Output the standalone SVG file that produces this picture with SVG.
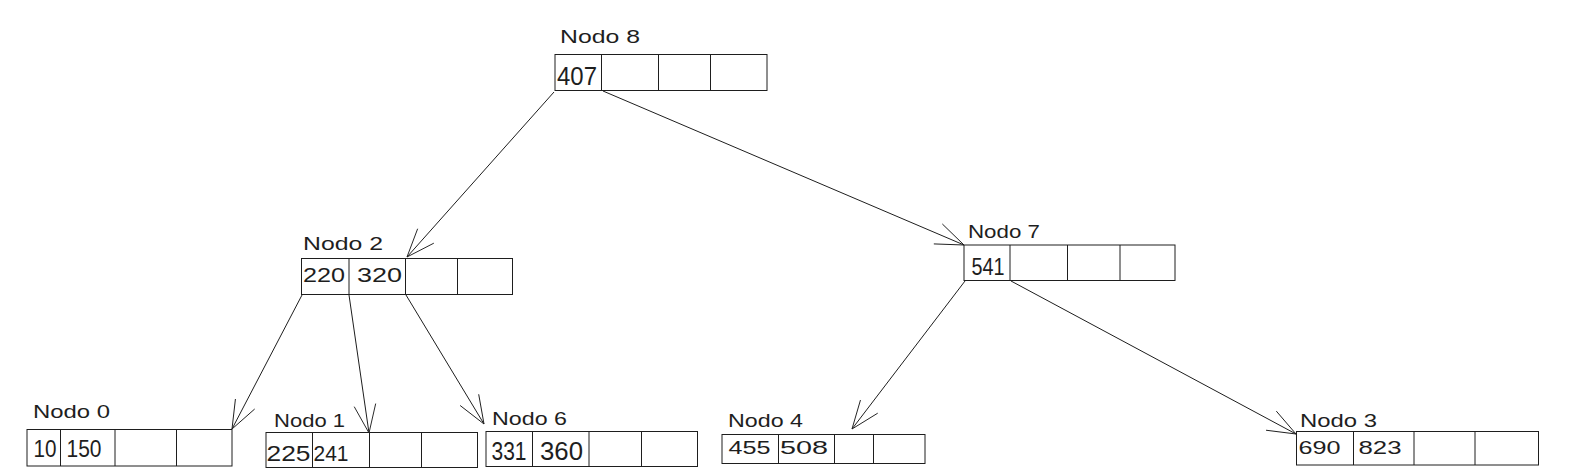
<svg xmlns="http://www.w3.org/2000/svg" width="1585" height="472" viewBox="0 0 1585 472">
<style>
.cell{fill:#ffffff;stroke:#1e1e1e;stroke-width:1}
.div{stroke:#1e1e1e;stroke-width:1}
.lbl{font-family:"Liberation Sans",Arial,sans-serif;font-size:19px;fill:#1e1e1e}
.num{font-family:"Liberation Sans",Arial,sans-serif;fill:#1e1e1e}
.edge{stroke:#1e1e1e;stroke-width:1;fill:none;marker-end:url(#ah)}
</style>
<defs>
<marker id="ah" markerUnits="userSpaceOnUse" markerWidth="40" markerHeight="40" refX="0" refY="0" orient="auto" overflow="visible" viewBox="-40 -20 45 40">
<path d="M -31.7 -12.2 L 0 0 L -31.7 12.2" fill="none" stroke="#1e1e1e" stroke-width="1"/>
</marker>
</defs>
<rect width="1585" height="472" fill="#ffffff"/>
<g id="connectors">
<line class="edge" x1="554" y1="92" x2="407" y2="257"/>
<line class="edge" x1="603" y1="91" x2="964" y2="245"/>
<line class="edge" x1="302" y1="295" x2="232" y2="429"/>
<line class="edge" x1="349" y1="295" x2="369" y2="433"/>
<line class="edge" x1="406" y1="295" x2="484" y2="424"/>
<line class="edge" x1="965" y1="281" x2="852" y2="429"/>
<line class="edge" x1="1011" y1="281" x2="1296" y2="434"/>
</g>
<g id="nodo8">
<text class="lbl" x="560" y="43" textLength="80" lengthAdjust="spacingAndGlyphs">Nodo 8</text>
<rect class="cell" x="555" y="54.5" width="212" height="36"/>
<line class="div" x1="601.5" y1="54.5" x2="601.5" y2="90.5"/>
<line class="div" x1="658.5" y1="54.5" x2="658.5" y2="90.5"/>
<line class="div" x1="710.5" y1="54.5" x2="710.5" y2="90.5"/>
<text class="num" x="557" y="85" font-size="26" textLength="40" lengthAdjust="spacingAndGlyphs">407</text>
</g>
<g id="nodo2">
<text class="lbl" x="303" y="250" textLength="80" lengthAdjust="spacingAndGlyphs">Nodo 2</text>
<rect class="cell" x="301.5" y="258.5" width="211" height="36"/>
<line class="div" x1="349" y1="258.5" x2="349" y2="294.5"/>
<line class="div" x1="405.5" y1="258.5" x2="405.5" y2="294.5"/>
<line class="div" x1="457.5" y1="258.5" x2="457.5" y2="294.5"/>
<text class="num" x="303" y="282" font-size="20" textLength="42" lengthAdjust="spacingAndGlyphs">220</text>
<text class="num" x="357" y="282" font-size="20" textLength="45" lengthAdjust="spacingAndGlyphs">320</text>
</g>
<g id="nodo7">
<text class="lbl" x="968" y="238" textLength="72" lengthAdjust="spacingAndGlyphs">Nodo 7</text>
<rect class="cell" x="964" y="245" width="211" height="35.5"/>
<line class="div" x1="1010" y1="245" x2="1010" y2="280.5"/>
<line class="div" x1="1067.5" y1="245" x2="1067.5" y2="280.5"/>
<line class="div" x1="1120" y1="245" x2="1120" y2="280.5"/>
<text class="num" x="971.5" y="275" font-size="24" textLength="33" lengthAdjust="spacingAndGlyphs">541</text>
</g>
<g id="nodo0">
<text class="lbl" x="33" y="418" textLength="77" lengthAdjust="spacingAndGlyphs">Nodo 0</text>
<rect class="cell" x="27" y="429.5" width="205" height="36.5"/>
<line class="div" x1="60.5" y1="429.5" x2="60.5" y2="466"/>
<line class="div" x1="115" y1="429.5" x2="115" y2="466"/>
<line class="div" x1="176.5" y1="429.5" x2="176.5" y2="466"/>
<text class="num" x="33.5" y="456.5" font-size="24" textLength="23" lengthAdjust="spacingAndGlyphs">10</text>
<text class="num" x="66.5" y="456.5" font-size="24" textLength="35" lengthAdjust="spacingAndGlyphs">150</text>
</g>
<g id="nodo1">
<text class="lbl" x="274" y="426.5" textLength="71" lengthAdjust="spacingAndGlyphs">Nodo 1</text>
<rect class="cell" x="266" y="432.5" width="211.5" height="35"/>
<line class="div" x1="312.5" y1="432.5" x2="312.5" y2="467.5"/>
<line class="div" x1="369.5" y1="432.5" x2="369.5" y2="467.5"/>
<line class="div" x1="421.5" y1="432.5" x2="421.5" y2="467.5"/>
<text class="num" x="266.5" y="461" font-size="22" textLength="44" lengthAdjust="spacingAndGlyphs">225</text>
<text class="num" x="313.5" y="461" font-size="22" textLength="35" lengthAdjust="spacingAndGlyphs">241</text>
</g>
<g id="nodo6">
<text class="lbl" x="492" y="425" textLength="75" lengthAdjust="spacingAndGlyphs">Nodo 6</text>
<rect class="cell" x="486" y="431.5" width="211.5" height="35"/>
<line class="div" x1="532.5" y1="431.5" x2="532.5" y2="466.5"/>
<line class="div" x1="589" y1="431.5" x2="589" y2="466.5"/>
<line class="div" x1="641.5" y1="431.5" x2="641.5" y2="466.5"/>
<text class="num" x="491.5" y="460" font-size="25" textLength="35" lengthAdjust="spacingAndGlyphs">331</text>
<text class="num" x="540" y="460" font-size="25" textLength="43" lengthAdjust="spacingAndGlyphs">360</text>
</g>
<g id="nodo4">
<text class="lbl" x="728" y="427" textLength="75" lengthAdjust="spacingAndGlyphs">Nodo 4</text>
<rect class="cell" x="722" y="434.5" width="203" height="29"/>
<line class="div" x1="778.5" y1="434.5" x2="778.5" y2="463.5"/>
<line class="div" x1="834.5" y1="434.5" x2="834.5" y2="463.5"/>
<line class="div" x1="873.5" y1="434.5" x2="873.5" y2="463.5"/>
<text class="num" x="728.5" y="453.5" font-size="19" textLength="42" lengthAdjust="spacingAndGlyphs">455</text>
<text class="num" x="780" y="453.5" font-size="19" textLength="48" lengthAdjust="spacingAndGlyphs">508</text>
</g>
<g id="nodo3">
<text class="lbl" x="1300" y="427" textLength="77" lengthAdjust="spacingAndGlyphs">Nodo 3</text>
<rect class="cell" x="1296.5" y="431.5" width="242" height="33.5"/>
<line class="div" x1="1353.5" y1="431.5" x2="1353.5" y2="465"/>
<line class="div" x1="1414" y1="431.5" x2="1414" y2="465"/>
<line class="div" x1="1475" y1="431.5" x2="1475" y2="465"/>
<text class="num" x="1298.5" y="453.5" font-size="19" textLength="42" lengthAdjust="spacingAndGlyphs">690</text>
<text class="num" x="1358.5" y="453.5" font-size="19" textLength="43" lengthAdjust="spacingAndGlyphs">823</text>
</g>
</svg>
